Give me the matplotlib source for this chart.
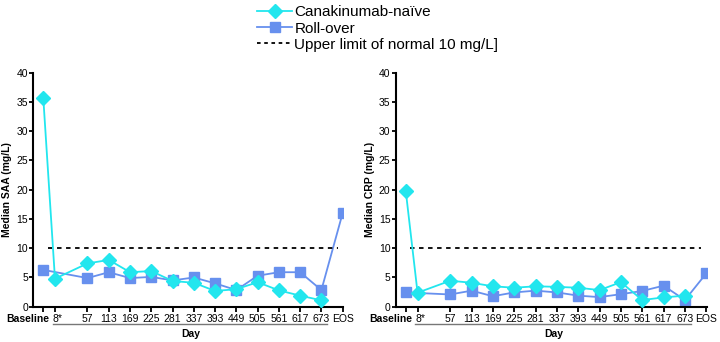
import matplotlib.pyplot as plt
import numpy as np
from matplotlib.lines import Line2D

plt.rcParams['font.family'] = ['Liberation Sans', 'DejaVu Sans']

# x tick labels and their positions on the (non-linear) day axis
tick_labels = ['Baseline', '8*', '57', '113', '169', '225', '281', '337',
               '393', '449', '505', '561', '617', '673', 'EOS']
tick_pos = [0, 0.55] + [2.08 + i for i in range(12)] + [14.08]

# Canakinumab-naive: Baseline .. 673 (no EOS)
naive_labels = tick_labels[:14]
naive_saa = [35.7, 4.8, 7.4, 8.0, 5.9, 6.1, 4.4, 4.1, 2.7, 3.0, 4.2, 2.8, 1.9, 1.1]
naive_crp = [19.7, 2.4, 4.45, 4.1, 3.5, 3.25, 3.5, 3.4, 3.25, 2.85, 4.2, 1.15, 1.6, 1.9]

# Roll-over: Baseline, 57 .. 673, EOS (no day 8)
roll_labels = ['Baseline'] + tick_labels[2:]
roll_saa = [6.3, 4.9, 5.9, 4.9, 5.1, 4.5, 5.0, 4.0, 2.85, 5.3, 5.9, 5.9, 2.85, 16.0]
roll_crp = [2.45, 2.1, 2.75, 1.8, 2.45, 2.75, 2.45, 1.9, 1.65, 2.15, 2.7, 3.6, 1.15, 5.7]

uln = 10

cyan = '#22E6EE'
blue = '#6790EE'
pos = dict(zip(tick_labels, tick_pos))

fig = plt.figure(figsize=(7.2, 3.42), dpi=100)
ax1 = fig.add_axes([0.0465, 0.103, 0.430, 0.685])
ax2 = fig.add_axes([0.550, 0.103, 0.4315, 0.685])


def draw(ax, naive, roll, ylabel):
    ax.plot([pos[l] for l in naive_labels], naive, color=cyan, marker='D',
            markersize=7, lw=1.3, zorder=3)
    ax.plot([pos[l] for l in roll_labels], roll, color=blue, marker='s',
            markersize=6.5, lw=1.3, zorder=2)
    ax.plot([0.2, 13.85], [uln, uln], color='black', ls=(0, (2.5, 2.5)), lw=1.3)
    ax.set_xlim(-0.46, 14.1)
    ax.set_ylim(0, 40)
    ax.set_yticks(np.arange(0, 41, 5))
    ax.set_xticks(tick_pos)
    # first two labels are drawn by hand (Baseline right-aligned, 8* left-aligned)
    ax.set_xticklabels([''] * 2 + tick_labels[2:])
    tr = ax.get_xaxis_transform()
    ax.annotate('Baseline', (tick_pos[0], 0), xycoords=tr, xytext=(4.5, -5.2),
                textcoords='offset points', ha='right', va='top',
                fontsize=7.5, fontweight='bold', annotation_clip=False)
    ax.annotate('8*', (tick_pos[1], 0), xycoords=tr, xytext=(-1.5, -5.2),
                textcoords='offset points', ha='left', va='top',
                fontsize=7.5, annotation_clip=False)
    ax.spines['top'].set_visible(False)
    ax.spines['right'].set_visible(False)
    ax.spines['left'].set_linewidth(1.5)
    ax.spines['bottom'].set_linewidth(1.5)
    ax.tick_params(axis='x', length=3.6, width=1.3, labelsize=7.5, pad=1.6)
    ax.tick_params(axis='y', length=3, width=1.3, labelsize=7.5, pad=1)
    ax.set_ylabel(ylabel, fontsize=7.5, fontweight='bold', labelpad=3)
    # underline for the post-baseline days
    ax.add_line(Line2D([0.44, 13.36], [-0.074, -0.074], transform=tr,
                       color='#777777', lw=1, clip_on=False))
    ax.text(6.95, -0.095, 'Day', transform=tr, ha='center', va='top',
            fontsize=7.5, fontweight='bold')


draw(ax1, naive_saa, roll_saa, 'Median SAA (mg/L)')
draw(ax2, naive_crp, roll_crp, 'Median CRP (mg/L)')

handles = [
    Line2D([], [], color=cyan, marker='D', markersize=7, lw=1.3),
    Line2D([], [], color=blue, marker='s', markersize=6.5, lw=1.3),
    Line2D([], [], color='black', ls=(0, (2, 2)), lw=1.3),
]
fig.legend(handles, ['Canakinumab-naïve', 'Roll-over', 'Upper limit of normal 10 mg/L]'],
           loc='upper left', bbox_to_anchor=(0.342, 1.016), frameon=False,
           fontsize=11, handlelength=2.3, handletextpad=0.15, labelspacing=0.15,
           borderpad=0.2)

plt.savefig('out.png', dpi=100)
